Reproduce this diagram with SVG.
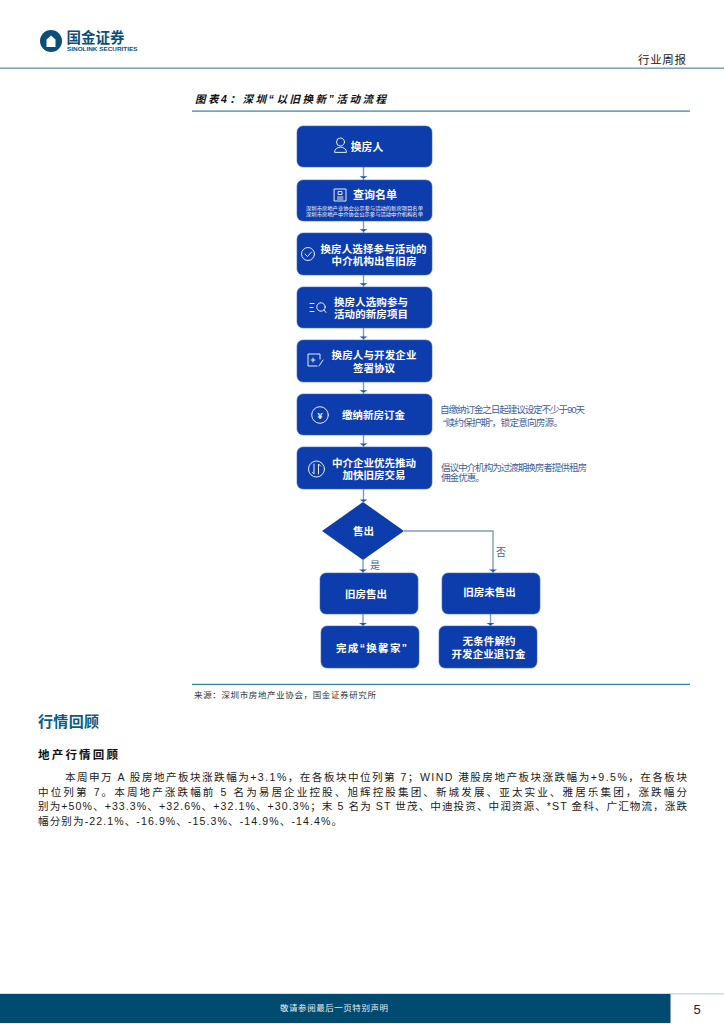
<svg xmlns="http://www.w3.org/2000/svg" width="724" height="1024" viewBox="0 0 724 1024">
<style>
text{font-family:"Liberation Sans","Noto Sans CJK SC",sans-serif}
.box{fill:#0d3cac;stroke:#3f68b8;stroke-width:.6}
.t{fill:#fff;font-size:10.500px;font-weight:700;text-anchor:middle}
.i{fill:none;stroke:#fff;stroke-width:.9;stroke-linecap:round;stroke-linejoin:round}
.s{fill:#fff;font-size:5px}
.c{fill:none;stroke:#7d9cc4;stroke-width:1.400}
.n{fill:#3f5f9c;font-size:9.600px}
.b{fill:#1a1a1a;font-size:10.600px}
.r{fill:#2f7fa8}
</style>
<defs>
<path id="h" d="M-4 -2.600H4L0 0Z" fill="#1f55a8"/>
</defs>
<rect width="724" height="1024" fill="#fff"/>

<g id="header">
<circle cx="51" cy="41" r="11" fill="#0b4f78"/>
<path d="M46.500 47V39.500L51 35.500L55.500 39.500V47Z" fill="#fff"/>
<text x="66.500" y="43" font-size="14.500" font-weight="700" fill="#0b4f78" textLength="58" lengthAdjust="spacingAndGlyphs">国金证券</text>
<text x="67" y="51" font-size="6" font-weight="700" fill="#0b4f78" textLength="70.500" lengthAdjust="spacingAndGlyphs">SINOLINK SECURITIES</text>
<text x="638" y="64" font-size="11.500" fill="#222" textLength="48">行业周报</text>
<rect x="0" y="67.500" width="724" height="1.400" fill="#6f9ab3"/>
</g>

<g id="figure-title">
<text x="195" y="103" font-size="10.500" font-weight="700" font-style="italic" fill="#111" textLength="191">图表4：深圳“以旧换新”活动流程</text>
<rect class="r" x="192" y="110.500" width="498" height="1.200"/>
</g>

<g id="connectors">
<path class="c" d="M363.500 167V180M363.500 221V233M363.500 275V287M363.500 328V340M363.500 382V394M363.500 435V447M363.500 489V502M363 560V573M404 531H493V573M363 614V626M490.500 614V626"/>
<use href="#h" x="363.500" y="178.800"/>
<use href="#h" x="363.500" y="231.800"/>
<use href="#h" x="363.500" y="285.800"/>
<use href="#h" x="363.500" y="339"/>
<use href="#h" x="363.500" y="392.800"/>
<use href="#h" x="363.500" y="446"/>
<use href="#h" x="363.500" y="502"/>
<use href="#h" x="363" y="572"/>
<use href="#h" x="493" y="572"/>
<use href="#h" x="363" y="625.500"/>
<use href="#h" x="490.500" y="625.500"/>
</g>

<g id="node-1">
<rect class="box" x="297" y="126" width="135" height="41" rx="6"/>
<circle class="i" cx="340.500" cy="142" r="4"/>
<path class="i" d="M334.500 152C334.500 145.500 346.500 145.500 346.500 152Z"/>
<text class="t" x="367" y="150.500" style="font-size:10.800px">换房人</text>
</g>
<g id="node-2">
<rect class="box" x="297" y="180" width="135" height="41" rx="6"/>
<rect class="i" x="334.500" y="189" width="11.500" height="12"/>
<path class="i" d="M337.500 197H343M337.500 199H343M338.500 191.500H342V194.500H338.500Z"/>
<text class="t" x="375" y="199" style="font-size:11px">查询名单</text>
<text class="s" x="306" y="209.800" textLength="117" lengthAdjust="spacingAndGlyphs">深圳市房地产业协会公示参与活动的新房项目名单</text>
<text class="s" x="306" y="216.300" textLength="117" lengthAdjust="spacingAndGlyphs">深圳市房地产中介协会公示参与活动中介机构名单</text>
</g>
<g id="node-3">
<rect class="box" x="297" y="233" width="135" height="42" rx="6"/>
<circle class="i" cx="308" cy="254" r="6.500"/>
<path class="i" d="M305 254L307.500 256.500L311.500 252"/>
<text class="t" x="373.500" y="253" textLength="106">换房人选择参与活动的</text>
<text class="t" x="374" y="264.500" textLength="85">中介机构出售旧房</text>
</g>
<g id="node-4">
<rect class="box" x="297" y="287" width="135" height="41" rx="6"/>
<circle class="i" cx="321" cy="307" r="4.200"/>
<path class="i" d="M324 310L326 312.500M310 303.500H314M310 307.500H313M310 311.500H314"/>
<text class="t" x="371" y="305.500" textLength="74">换房人选购参与</text>
<text class="t" x="371" y="318" textLength="74">活动的新房项目</text>
</g>
<g id="node-5">
<rect class="box" x="297" y="340" width="135" height="42" rx="6"/>
<path class="i" d="M320 359V354H308V366H317M319 366L323 360M311 360H315M313 358V362"/>
<text class="t" x="374" y="359" textLength="85">换房人与开发企业</text>
<text class="t" x="374" y="371.500" textLength="42">签署协议</text>
</g>
<g id="node-6">
<rect class="box" x="297" y="394" width="135" height="41" rx="6"/>
<circle class="i" cx="320" cy="415" r="8.300"/>
<text x="320" y="418.500" font-size="9" font-weight="700" fill="#fff" text-anchor="middle">¥</text>
<text class="t" x="373.500" y="419" textLength="63">缴纳新房订金</text>
</g>
<g id="node-7">
<rect class="box" x="297" y="447" width="135" height="42" rx="6"/>
<circle class="i" cx="316.500" cy="469" r="8"/>
<path class="i" d="M314 464V474L312.500 472.500M318.500 474V464L320.500 466"/>
<text class="t" x="374" y="467" textLength="84">中介企业优先推动</text>
<text class="t" x="374" y="478.500" textLength="63">加快旧房交易</text>
</g>
<g id="node-8">
<path d="M363 502L404 531L363 560L322 531Z" fill="#0d3cac"/>
<text class="t" x="363.500" y="535">售出</text>
</g>
<g id="node-9">
<rect class="box" x="320" y="573" width="98" height="41" rx="6"/>
<text class="t" x="366" y="598">旧房售出</text>
</g>
<g id="node-10">
<rect class="box" x="442" y="573" width="98" height="41" rx="6"/>
<text class="t" x="489.500" y="596">旧房未售出</text>
</g>
<g id="node-11">
<rect class="box" x="321" y="626" width="98" height="42" rx="6"/>
<text class="t" x="371.500" y="652" textLength="71">完成“换馨家”</text>
</g>
<g id="node-12">
<rect class="box" x="439" y="626" width="98" height="42" rx="6"/>
<text class="t" x="489" y="645" textLength="53">无条件解约</text>
<text class="t" x="488.500" y="657.500" textLength="74">开发企业退订金</text>
</g>

<g id="labels">
<text x="370" y="569" font-size="10" fill="#3f5f9c">是</text>
<text x="496" y="556" font-size="10" fill="#3f5f9c">否</text>
<text class="n" x="440" y="413" textLength="145">自缴纳订金之日起建议设定不少于90天</text>
<text class="n" x="443" y="425.500" textLength="120">“赎约保护期”，锁定意向房源。</text>
<text class="n" x="441" y="470.500" textLength="146">倡议中介机构为过渡期换房者提供租房</text>
<text class="n" x="441" y="480.500" textLength="44">佣金优惠。</text>
</g>

<g id="source">
<rect class="r" x="192" y="683.800" width="498" height="1.200"/>
<text x="194" y="698" font-size="8.500" fill="#333" textLength="182">来源：深圳市房地产业协会，国金证券研究所</text>
</g>

<g id="body">
<text x="38" y="726.500" font-size="15" font-weight="700" fill="#0b5a86" textLength="61">行情回顾</text>
<text x="38" y="759" font-size="11.500" font-weight="700" fill="#111" textLength="80">地产行情回顾</text>
<text class="b" x="65" y="781" textLength="622">本周申万 A 股房地产板块涨跌幅为+3.1%，在各板块中位列第 7；WIND 港股房地产板块涨跌幅为+9.5%，在各板块</text>
<text class="b" x="38" y="795.500" textLength="649">中位列第 7。本周地产涨跌幅前 5 名为易居企业控股、旭辉控股集团、新城发展、亚太实业、雅居乐集团，涨跌幅分</text>
<text class="b" x="38" y="810" textLength="649">别为+50%、+33.3%、+32.6%、+32.1%、+30.3%；末 5 名为 ST 世茂、中迪投资、中润资源、*ST 金科、广汇物流，涨跌</text>
<text class="b" x="38" y="825" textLength="304">幅分别为-22.1%、-16.9%、-15.3%、-14.9%、-14.4%。</text>
</g>

<g id="footer">
<rect x="0" y="993.500" width="724" height="0.800" fill="#9dbccd"/>
<rect x="0" y="994" width="670.500" height="29" fill="#014a70"/>
<text x="280" y="1011" font-size="8.500" fill="#e8eef2" textLength="108">敬请参阅最后一页特别声明</text>
<text x="697" y="1014" font-size="13" fill="#222" text-anchor="middle">5</text>
</g>
</svg>
